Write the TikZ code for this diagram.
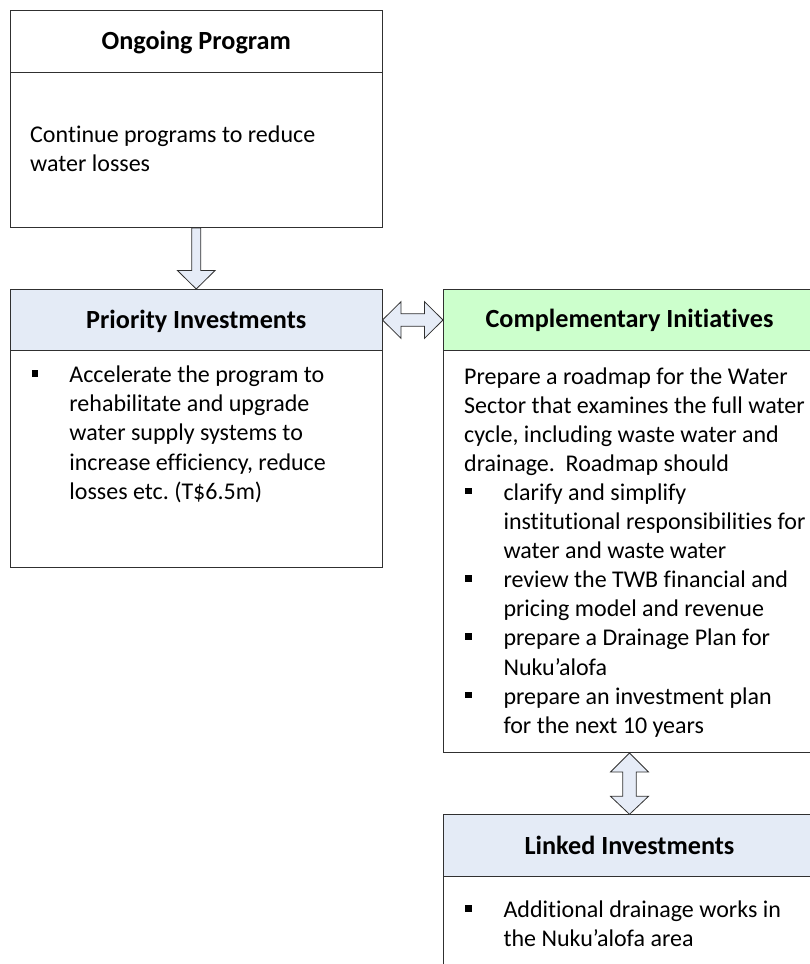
\documentclass[tikz,border=0pt]{standalone}
\usepackage{fontspec}
\setmainfont{Carlito}[Ligatures=NoCommon]
\usetikzlibrary{calc}
\definecolor{hdrblue}{HTML}{E4EBF6}
\definecolor{hdrgreen}{HTML}{CCFFCC}
\definecolor{arrowfill}{HTML}{E6ECF7}
\definecolor{edge}{HTML}{303030}
\newcommand\sqb{\rule[6pt]{6.5pt}{6.5pt}}
\frenchspacing
\tikzset{
  boxpart/.style={draw=edge, line width=1pt, rectangle, inner sep=0pt, anchor=north west},
  titletext/.style={font=\fontsize{26.2}{31}\selectfont\bfseries, anchor=base, inner sep=0pt},
  bodytext/.style={font=\fontsize{24}{29.1}\selectfont, anchor=base west, inner sep=0pt},
  blockarrow/.style={draw=edge, line width=0.8pt, fill=arrowfill, line join=miter}
}
\begin{document}
\begin{tikzpicture}[x=1pt,y=-1pt]
\clip (0,0) rectangle (810,964);
\fill[white] (0,0) rectangle (810,964);
% Ongoing Program
\node[boxpart, fill=white, minimum width=371.5pt, minimum height=62pt] (onghead) at (10,10) {};
\node[boxpart, fill=white, minimum width=371.5pt, minimum height=155pt] (ongbody) at (10,72) {};
% Priority Investments
\node[boxpart, fill=hdrblue, minimum width=371.5pt, minimum height=61pt] (prihead) at (10,289) {};
\node[boxpart, fill=white, minimum width=371.5pt, minimum height=217pt] (pribody) at (10,350) {};
% Complementary Initiatives
\node[boxpart, fill=hdrgreen, minimum width=372pt, minimum height=61pt] (comphead) at (443,289) {};
\node[boxpart, fill=white, minimum width=372pt, minimum height=402pt] (compbody) at (443,350) {};
% Linked Investments
\node[boxpart, fill=hdrblue, minimum width=372pt, minimum height=61.7pt] (linkhead) at (443,814.3) {};
\node[boxpart, fill=white, minimum width=372pt, minimum height=110pt] (linkbody) at (443,876) {};

% titles
\node[titletext] (ongtitle) at (onghead.center |- 0,49) {Ongoing Program};
\node[titletext] (prititle) at (prihead.center |- 0,328) {Priority Investments};
\node[titletext] (comptitle) at (comphead.center |- 0,327) {Complementary Initiatives};
\node[titletext] (linktitle) at (linkhead.center |- 0,854) {Linked Investments};

% bodies
\node[bodytext] (ongtext) at (30,142.5) {\parbox[t]{345pt}{Continue programs to reduce\\water losses}};
\node[bodytext] (pritext) at (31.7,382.7) {\parbox[t]{345pt}{%
\makebox[37.5pt][l]{\sqb}Accelerate the program to\\
\hspace*{37.5pt}rehabilitate and upgrade\\
\hspace*{37.5pt}water supply systems to\\
\hspace*{37.5pt}increase efficiency, reduce\\
\hspace*{37.5pt}losses etc. (T\$6.5m)}};
\node[bodytext] (comptext) at (464,384) {\parbox[t]{345pt}{%
Prepare a roadmap for the Water\\
Sector that examines the full water\\
cycle, including waste water and\\
drainage.\ \ Roadmap should\\
\hspace*{1pt}\makebox[38.3pt][l]{\sqb}clarify and simplify\\
\hspace*{39.3pt}institutional responsibilities for\\
\hspace*{39.3pt}water and waste water\\
\hspace*{1pt}\makebox[38.3pt][l]{\sqb}review the TWB financial and\\
\hspace*{39.3pt}pricing model and revenue\\
\hspace*{1pt}\makebox[38.3pt][l]{\sqb}prepare a Drainage Plan for\\
\hspace*{39.3pt}Nuku’alofa\\
\hspace*{1pt}\makebox[38.3pt][l]{\sqb}prepare an investment plan\\
\hspace*{39.3pt}for the next 10 years}};
\node[bodytext] (linktext) at (465,917.5) {\parbox[t]{345pt}{%
\makebox[38.3pt][l]{\sqb}Additional drainage works in\\
\hspace*{38.3pt}the Nuku’alofa area}};

% down arrow Ongoing -> Priority
\draw[blockarrow]
  ($(ongbody.south)+(-4.5,0)$) -- ($(prihead.north)+(-4.5,-18.5)$) --
  ($(prihead.north)+(-18.8,-18.5)$) -- (prihead.north) --
  ($(prihead.north)+(18.8,-18.5)$) -- ($(prihead.north)+(4.5,-18.5)$) --
  ($(ongbody.south)+(4.5,0)$) -- cycle;

% horizontal double arrow Priority <-> Complementary
\draw[blockarrow]
  (prihead.east) -- ($(prihead.east)+(18.5,-18.3)$) -- ($(prihead.east)+(18.5,-6.3)$) --
  ($(comphead.west)+(-18.5,-6.3)$) -- ($(comphead.west)+(-18.5,-18.3)$) -- (comphead.west) --
  ($(comphead.west)+(-18.5,18.3)$) -- ($(comphead.west)+(-18.5,6.3)$) --
  ($(prihead.east)+(18.5,6.3)$) -- ($(prihead.east)+(18.5,18.3)$) -- cycle;

% vertical double arrow Complementary <-> Linked
\draw[blockarrow]
  (compbody.south) -- ($(compbody.south)+(19,19)$) -- ($(compbody.south)+(6.7,19)$) --
  ($(linkhead.north)+(6.7,-18)$) -- ($(linkhead.north)+(19,-18)$) -- (linkhead.north) --
  ($(linkhead.north)+(-19,-18)$) -- ($(linkhead.north)+(-6.7,-18)$) --
  ($(compbody.south)+(-6.7,19)$) -- ($(compbody.south)+(-19,19)$) -- cycle;
\end{tikzpicture}
\end{document}
